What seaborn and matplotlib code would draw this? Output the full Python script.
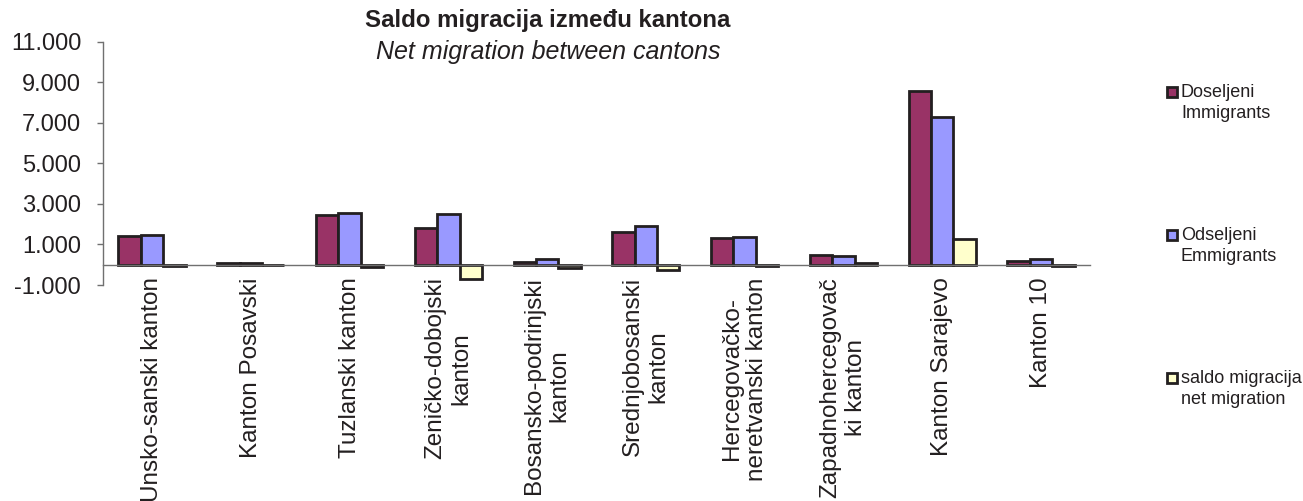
import matplotlib
matplotlib.use("Agg")
import matplotlib.pyplot as plt
import matplotlib.ticker as mticker
from matplotlib.patches import Rectangle
import pandas as pd
import seaborn as sns

# podaci
kantoni = ["Unsko-sanski kanton", "Kanton Posavski", "Tuzlanski kanton",
           "Zeničko-dobojski\nkanton", "Bosansko-podrinjski\nkanton",
           "Srednjobosanski\nkanton", "Hercegovačko-\nneretvanski kanton",
           "Zapadnohercegovač\nki kanton", "Kanton Sarajevo", "Kanton 10"]
doseljeni = [1400, 100, 2440, 1820, 130, 1620, 1320, 495, 8540, 210]
odseljeni = [1450, 110, 2540, 2500, 300, 1900, 1390, 410, 7270, 280]
saldo = [-50, -20, -100, -680, -170, -280, -70, 85, 1250, -70]

serije = ["Doseljeni", "Odseljeni", "saldo"]
boje = ["#993366", "#9999FF", "#FFFFCC"]
legenda = ["Doseljeni\nImmigrants", "Odseljeni\nEmmigrants", "saldo migracija\nnet migration"]

df = pd.DataFrame({
    "kanton": kantoni * 3,
    "vrijednost": doseljeni + odseljeni + saldo,
    "serija": [s for s in serije for _ in kantoni],
})

sns.set_theme(style="white")
plt.rcParams["font.family"] = ["Liberation Sans", "DejaVu Sans"]
tekst = "#231f20"

fig = plt.figure(figsize=(13.03, 5.01), dpi=100)
ax = fig.add_axes([0.0788, 0.431, 0.758, 0.486])

sns.barplot(data=df, x="kanton", y="vrijednost", hue="serija", order=kantoni,
            hue_order=serije, palette=boje, saturation=1, width=0.68,
            edgecolor="#231f20", linewidth=2, legend=False, ax=ax)

ax.set_xlim(-0.5, len(kantoni) - 0.5)
ax.set_ylim(-1000, 11000)
ax.set_yticks(range(-1000, 11001, 2000))
ax.yaxis.set_major_formatter(mticker.FuncFormatter(lambda v, p: f"{int(v):,}".replace(",", ".")))
ax.set_xlabel("")
ax.set_ylabel("")

for s in ["top", "right"]:
    ax.spines[s].set_visible(False)
ax.spines["bottom"].set_position(("data", 0))
for s in ["left", "bottom"]:
    ax.spines[s].set_color("#707070")
    ax.spines[s].set_linewidth(1)

ax.set_xticks(range(len(kantoni)))
ax.set_xticklabels(kantoni, rotation=90, ha="center", va="top",
                   multialignment="center", fontsize=17.5, color=tekst)
ax.set_xticks([i - 0.5 for i in range(len(kantoni) + 1)], minor=True)
ax.tick_params(axis="x", which="major", length=0, pad=9)
ax.tick_params(axis="x", which="minor", length=5, width=1, color="#707070", direction="out")
ax.tick_params(axis="y", length=4.5, width=1, color="#707070", direction="out",
               labelsize=17, labelcolor=tekst, pad=11, left=True)
ax.grid(False)

fig.text(548 / 1303, 1 - 20 / 501, "Saldo migracija između kantona", ha="center", va="center",
         fontsize=17.3, fontweight="bold", color=tekst)
fig.text(548 / 1303, 1 - 52 / 501, "Net migration between cantons", ha="center", va="center",
         fontsize=18, fontstyle="italic", color=tekst)

# legenda
W, H = 1303, 501
poz = [92, 235, 378]
for sy, boja, lab in zip(poz, boje, legenda):
    fig.patches.append(Rectangle((1167 / W, 1 - (sy + 5) / H), 10 / W, 10 / H,
                                 transform=fig.transFigure, facecolor=boja,
                                 edgecolor="#231f20", linewidth=2))
    fig.text(1181 / W, 1 - (sy - 8) / H, lab, ha="left", va="top",
             fontsize=13, color=tekst, linespacing=1.3)

fig.savefig("out.png", dpi=100)
